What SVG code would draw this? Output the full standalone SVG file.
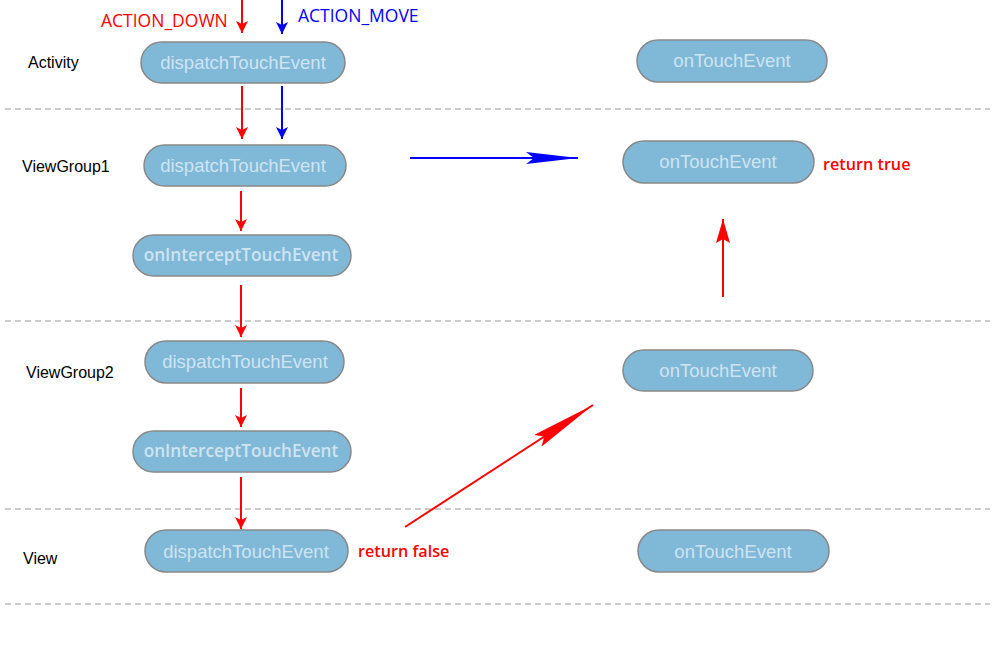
<svg xmlns="http://www.w3.org/2000/svg" width="992" height="647" viewBox="0 0 992 647">
<style>
.sep{stroke:#bbbbbb;stroke-width:1.3;stroke-dasharray:6,4;fill:none}
.node rect{fill:#80b8d8;stroke:#888888;stroke-width:1.5}
.nt{font-family:"Liberation Sans",Arial,sans-serif;font-size:18.5px;fill:#cfe4f1;text-anchor:middle}
.nb{font-family:"Open Sans","Liberation Sans",sans-serif;font-weight:600;font-size:17.2px;fill:#cfe4f1;text-anchor:middle}
.lbl{font-family:"Liberation Sans",Arial,sans-serif;font-size:16px;fill:#000}
.red{stroke:#ff0000;stroke-width:2;fill:none}
.blue{stroke:#0000ff;stroke-width:2;fill:none}
.rt{font-family:"Open Sans","Liberation Sans",sans-serif;font-size:16.2px;font-weight:600;fill:#ff0000}
.bt{font-family:"Open Sans","Liberation Sans",sans-serif;font-size:17.5px;fill:#0000ff}
.at{font-family:"Open Sans","Liberation Sans",sans-serif;font-size:17.5px;fill:#ff0000}
</style>
<defs>
<marker id="hr" markerUnits="userSpaceOnUse" viewBox="0 0 12 12" refX="12" refY="6" markerWidth="12" markerHeight="12" orient="auto"><path d="M0,0 L12,6 L0,12 L3,6 z" fill="#ff0000"/></marker>
<marker id="hb" markerUnits="userSpaceOnUse" viewBox="0 0 12 12" refX="12" refY="6" markerWidth="12" markerHeight="12" orient="auto"><path d="M0,0 L12,6 L0,12 L3,6 z" fill="#0000ff"/></marker>
<marker id="hrl" markerUnits="userSpaceOnUse" viewBox="0 0 66 14" refX="66" refY="7" markerWidth="66" markerHeight="14" orient="auto"><path d="M0,0 L66,7 L0,14 L8,7 z" fill="#ff0000"/></marker>
<marker id="hbl" markerUnits="userSpaceOnUse" viewBox="0 0 52 12" refX="52" refY="6" markerWidth="52" markerHeight="12" orient="auto"><path d="M0,0 L52,6 L0,12 L8,6 z" fill="#0000ff"/></marker>
<marker id="hru" markerUnits="userSpaceOnUse" viewBox="0 0 24 14" refX="24" refY="7" markerWidth="24" markerHeight="14" orient="auto"><path d="M0,0 L24,7 L0,14 L4,7 z" fill="#ff0000"/></marker>
</defs>
<rect width="992" height="647" fill="#ffffff"/>
<g id="separators">
<line class="sep" x1="5" y1="109" x2="990" y2="109"/>
<line class="sep" x1="5" y1="321" x2="990" y2="321"/>
<line class="sep" x1="5" y1="509" x2="990" y2="509"/>
<line class="sep" x1="5" y1="604" x2="990" y2="604"/>
</g>
<g id="lane-labels">
<text class="lbl" x="28" y="68">Activity</text>
<text class="lbl" x="22" y="172">ViewGroup1</text>
<text class="lbl" x="26" y="378">ViewGroup2</text>
<text class="lbl" x="23" y="564">View</text>
</g>
<g id="activity-dispatch" class="node"><rect x="141" y="42" width="204" height="41" rx="20.5"/><text class="nt" x="243" y="69">dispatchTouchEvent</text></g>
<g id="activity-ontouch" class="node"><rect x="637" y="40" width="190" height="42" rx="21"/><text class="nt" x="732" y="67">onTouchEvent</text></g>
<g id="vg1-dispatch" class="node"><rect x="144" y="145" width="202" height="41" rx="20.5"/><text class="nt" x="243" y="172">dispatchTouchEvent</text></g>
<g id="vg1-intercept" class="node"><rect x="133" y="235" width="218" height="41" rx="20.5"/><text class="nb" x="241" y="261">onInterceptTouchEvent</text></g>
<g id="vg1-ontouch" class="node"><rect x="623" y="141" width="191" height="42" rx="21"/><text class="nt" x="718" y="168">onTouchEvent</text></g>
<g id="vg2-dispatch" class="node"><rect x="145" y="341" width="199" height="42" rx="21"/><text class="nt" x="245" y="368">dispatchTouchEvent</text></g>
<g id="vg2-intercept" class="node"><rect x="133" y="431" width="218" height="41" rx="20.5"/><text class="nb" x="241" y="457">onInterceptTouchEvent</text></g>
<g id="vg2-ontouch" class="node"><rect x="623" y="350" width="190" height="41" rx="20.5"/><text class="nt" x="718" y="377">onTouchEvent</text></g>
<g id="view-dispatch" class="node"><rect x="145" y="530" width="203" height="42" rx="21"/><text class="nt" x="246" y="558">dispatchTouchEvent</text></g>
<g id="view-ontouch" class="node"><rect x="638" y="530" width="191" height="42" rx="21"/><text class="nt" x="733" y="558">onTouchEvent</text></g>
<g id="connectors">
<line class="red" x1="242" y1="0" x2="242" y2="33" marker-end="url(#hr)"/>
<line class="blue" x1="282" y1="0" x2="282" y2="34" marker-end="url(#hb)"/>
<line class="red" x1="242" y1="86" x2="242" y2="139" marker-end="url(#hr)"/>
<line class="blue" x1="282" y1="86" x2="282" y2="139" marker-end="url(#hb)"/>
<line class="red" x1="241" y1="191" x2="241" y2="231" marker-end="url(#hr)"/>
<line class="red" x1="241" y1="285" x2="241" y2="337" marker-end="url(#hr)"/>
<line class="red" x1="241" y1="388" x2="241" y2="427" marker-end="url(#hr)"/>
<line class="red" x1="241" y1="477" x2="241" y2="529" marker-end="url(#hr)"/>
<line class="blue" x1="410" y1="158" x2="578" y2="158" marker-end="url(#hbl)"/>
<line class="red" x1="723" y1="297" x2="723" y2="219" marker-end="url(#hru)"/>
<line class="red" x1="405" y1="527" x2="593" y2="405" marker-end="url(#hrl)"/>
</g>
<g id="annotations">
<text class="at" x="101" y="27">ACTION_DOWN</text>
<text class="bt" x="298" y="22">ACTION_MOVE</text>
<text class="rt" x="823" y="170">return true</text>
<text class="rt" x="358" y="557">return false</text>
</g>
</svg>
